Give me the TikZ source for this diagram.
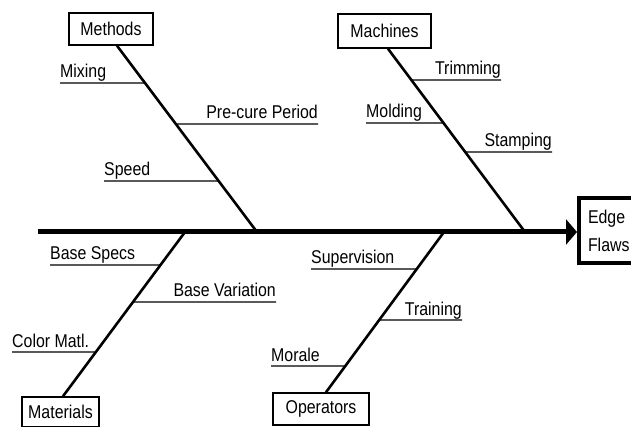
\documentclass[tikz,border=0pt]{standalone}
\usepackage{fontspec}
\setmainfont{Liberation Sans}[FakeStretch=0.86]
\usetikzlibrary{arrows.meta}

\begin{document}
\begin{tikzpicture}
        [
          x=1pt, y=-1pt,
          font=\fontsize{18.5}{22}\selectfont,
          catbox/.style={draw, line width=1.5pt, inner sep=0pt},
          effect/.style={draw, line width=4pt, align=left, inner xsep=9pt,
            minimum height=65pt, font=\fontsize{18.5}{28}\selectfont},
          cause/.style={inner sep=0pt},
          spine/.style={line width=5pt, -{Triangle[length=11pt,width=25pt]}},
          bone/.style={line width=2.6pt},
          twig/.style={line width=1.2pt}
        ]
        \clip (0,0) rectangle (631,427);
        \fill [white] (0,0) rectangle (631,427);
        % categories
        \node [catbox, minimum width=84pt, minimum height=32pt] (methods) at (111,29) {Methods};
        \node [catbox, minimum width=93pt, minimum height=34pt] (machines) at (384.5,31) {Machines};
        \node [catbox, minimum width=77pt, minimum height=30pt] (materials) at (60.5,412) {Materials};
        \node [catbox, minimum width=96pt, minimum height=32pt] (operators) at (321,409) {Operators};
        % effect
        \node [effect, anchor=west] (effect) at (577,231) {Edge\\Flaws};
        % spine
        \coordinate (tail) at (38,232);
        \draw [spine] (tail) -- (tail -| effect.west);
        % bones
        \coordinate (mtop) at ([xshift=6pt]methods.south);
        \coordinate (mfoot) at (257,232);
        \coordinate (ctop) at ([xshift=3.5pt]machines.south);
        \coordinate (cfoot) at (525,232);
        \coordinate (ttop) at (185,232);
        \coordinate (tfoot) at ([xshift=2.5pt]materials.north);
        \coordinate (otop) at (444,232);
        \coordinate (ofoot) at ([xshift=5pt]operators.north);
        \draw [bone] (mtop) -- (mfoot);
        \draw [bone] (ctop) -- (cfoot);
        \draw [bone] (ttop) -- (tfoot);
        \draw [bone] (otop) -- (ofoot);
        % methods causes
        \foreach \nm/\txt/\xx/\yy/\side in {mixing/Mixing/60/83/west,
            precure/Pre-cure Period/318/124/east, speed/Speed/104/181/west} {
            \coordinate (\nm-end) at (\xx,\yy);
            \node [cause, anchor=base \side] (\nm) at ([yshift=5pt]\nm-end) {\txt};
            \draw [twig] (\nm-end) -- (intersection of mtop--mfoot and 0,\yy--1,\yy);
        }
        % machines causes
        \foreach \nm/\txt/\xx/\yy/\side in {trimming/Trimming/501/80/east,
            molding/Molding/366/123/west, stamping/Stamping/552/152/east} {
            \coordinate (\nm-end) at (\xx,\yy);
            \node [cause, anchor=base \side] (\nm) at ([yshift=5pt]\nm-end) {\txt};
            \draw [twig] (\nm-end) -- (intersection of ctop--cfoot and 0,\yy--1,\yy);
        }
        % materials causes
        \foreach \nm/\txt/\xx/\yy/\side in {basespecs/Base Specs/50/265/west,
            basevar/Base Variation/276/302/east, colormatl/Color Matl./12/352/west} {
            \coordinate (\nm-end) at (\xx,\yy);
            \node [cause, anchor=base \side] (\nm) at ([yshift=5pt]\nm-end) {\txt};
            \draw [twig] (\nm-end) -- (intersection of ttop--tfoot and 0,\yy--1,\yy);
        }
        % operators causes
        \foreach \nm/\txt/\xx/\yy/\side in {supervision/Supervision/311/269/west,
            training/Training/462/320/east, morale/Morale/271/366/west} {
            \coordinate (\nm-end) at (\xx,\yy);
            \node [cause, anchor=base \side] (\nm) at ([yshift=5pt]\nm-end) {\txt};
            \draw [twig] (\nm-end) -- (intersection of otop--ofoot and 0,\yy--1,\yy);
        }
\end{tikzpicture}
\end{document}
